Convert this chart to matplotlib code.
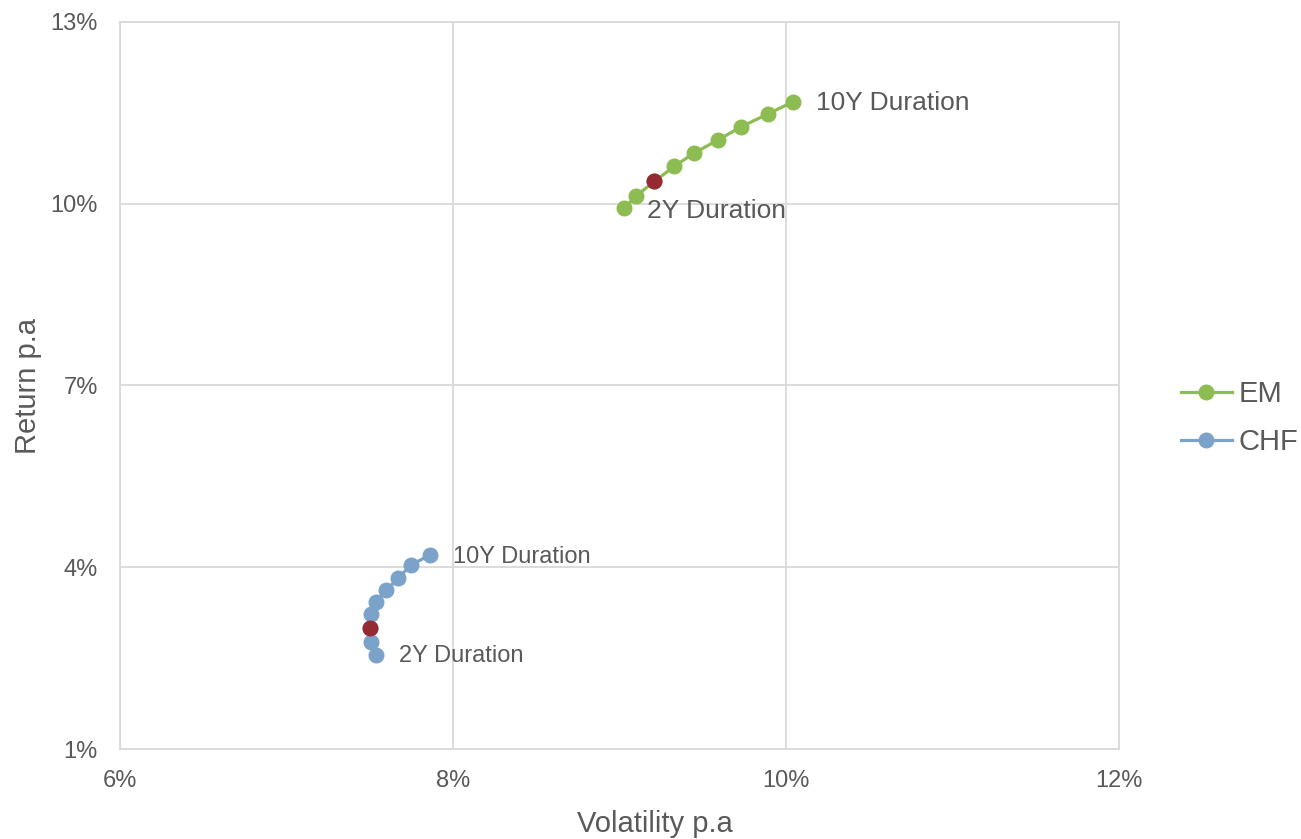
import matplotlib
matplotlib.use("Agg")
import matplotlib.pyplot as plt
from matplotlib.ticker import FuncFormatter

plt.rcParams['font.family'] = ['Liberation Sans', 'DejaVu Sans']

# Risk/return frontier across durations 2Y .. 10Y (percent p.a.)
em_vol = [9.03, 9.10, 9.21, 9.33, 9.45, 9.59, 9.73, 9.89, 10.04]
em_ret = [9.93, 10.13, 10.37, 10.62, 10.84, 11.05, 11.27, 11.48, 11.68]

chf_vol = [7.54, 7.51, 7.50, 7.51, 7.54, 7.60, 7.67, 7.75, 7.86]
chf_ret = [2.55, 2.77, 3.00, 3.23, 3.43, 3.62, 3.82, 4.04, 4.20]

# Current allocation on each curve
current_vol = [9.21, 7.50]
current_ret = [10.37, 3.00]

x_ticks = [6, 8, 10, 12]
y_ticks = [1, 4, 7, 10, 13]

green = '#8cbc52'
blue = '#7ba3c9'
red = '#962a32'
text_col = '#595959'
grid_col = '#d9d9d9'

fig = plt.figure(figsize=(13.01, 8.39), dpi=100)
ax = fig.add_axes([120/1301, 1-749/839, (1119-120)/1301, (749-22)/839])

ax.plot(em_vol, em_ret, color=green, lw=2.3, marker='o', ms=10.5, label='EM', zorder=3)
ax.plot(chf_vol, chf_ret, color=blue, lw=2.3, marker='o', ms=10.5, label='CHF', zorder=3)
ax.plot(current_vol, current_ret, ls='none', marker='o', ms=10.5, color=red, zorder=4)

ann = dict(textcoords='offset points', va='center', ha='left', color=text_col)
ax.annotate('10Y Duration', (em_vol[-1], em_ret[-1]), xytext=(16.5, -1), fontsize=19, **ann)
ax.annotate('2Y Duration', (em_vol[0], em_ret[0]), xytext=(16, -2), fontsize=19, **ann)
ax.annotate('10Y Duration', (chf_vol[-1], chf_ret[-1]), xytext=(17, -1), fontsize=17, **ann)
ax.annotate('2Y Duration', (chf_vol[0], chf_ret[0]), xytext=(16, -1), fontsize=17, **ann)

ax.set_xlim(x_ticks[0], x_ticks[-1])
ax.set_ylim(y_ticks[0], y_ticks[-1])
ax.set_xticks(x_ticks)
ax.set_yticks(y_ticks)
pct = FuncFormatter(lambda v, _: f'{v:.0f}%')
ax.xaxis.set_major_formatter(pct)
ax.yaxis.set_major_formatter(pct)
ax.tick_params(axis='both', length=0, labelsize=17, labelcolor=text_col)
ax.tick_params(axis='x', pad=15)
ax.tick_params(axis='y', pad=16)

ax.grid(True, color=grid_col, lw=1.3)
ax.set_axisbelow(True)
for s in ax.spines.values():
    s.set_color(grid_col)
    s.set_linewidth(1.3)

ax.set_xlabel('Volatility p.a', fontsize=21, color=text_col)
ax.xaxis.set_label_coords(0.5355, -0.084)
ax.set_ylabel('Return p.a', fontsize=21, color=text_col)
ax.yaxis.set_label_coords(-0.078, 0.5)

leg = ax.legend(loc='center left', bbox_to_anchor=(1.05, 0.455), frameon=False,
                fontsize=21, handlelength=1.75, handletextpad=0.25, labelspacing=0.7,
                borderaxespad=0)
for t in leg.get_texts():
    t.set_color(text_col)

fig.savefig('out.png', dpi=100)
